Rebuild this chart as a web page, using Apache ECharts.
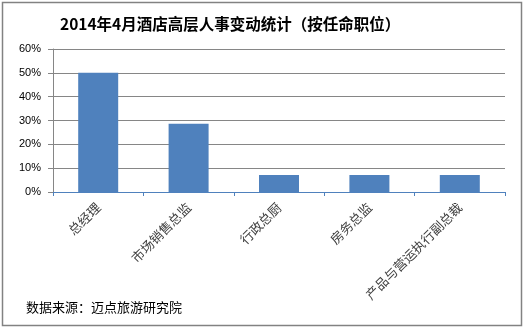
<!DOCTYPE html>
<html><head><meta charset="utf-8">
<script src="https://cdn.jsdelivr.net/npm/echarts@6/dist/echarts.min.js"></script>
<style>html,body{margin:0;padding:0;background:#fff}#c{width:525px;height:329px}</style>
</head><body><div id="c"></div>
<script>
var titleText = '2014年4月酒店高层人事变动统计（按任命职位）';
var sourceText = '数据来源：迈点旅游研究院';
var categories = ['总经理', '市场销售总监', '行政总厨', '房务总监', '产品与营运执行副总裁'];
var values = [50.0, 28.6, 7.1, 7.1, 7.1];
var yTicks = [0, 10, 20, 30, 40, 50, 60];

var chart = echarts.init(document.getElementById('c'), null, {renderer: 'canvas'});
chart.setOption({
  animation: false,
  backgroundColor: '#fff',
  title: {
    text: titleText, left: 55, top: 11,
    textStyle: {fontFamily: 'Noto Sans CJK SC', fontSize: 15.5, fontWeight: 'bold', color: '#000'}
  },
  graphic: [
    {type: 'rect', shape: {x: 2.5, y: 2.5, width: 519, height: 323}, style: {fill: null, stroke: '#828282', lineWidth: 1.5}, silent: true},
    {type: 'text', left: 26, top: 301, style: {text: sourceText, font: '13px "Noto Sans CJK SC"', fill: '#000'}}
  ],
  grid: {left: 53, right: 20, top: 49, bottom: 137, containLabel: false},
  xAxis: {
    type: 'category', data: categories,
    axisLine: {lineStyle: {color: '#4F81BD', width: 1}},
    axisTick: {show: true, length: 4, lineStyle: {color: '#4F81BD'}},
    axisLabel: {rotate: 45, interval: 0, margin: 13, fontFamily: 'Noto Sans CJK SC', fontSize: 13, color: '#404040'},
    splitLine: {show: false}
  },
  yAxis: {
    type: 'value', min: yTicks[0], max: yTicks[yTicks.length - 1], interval: 10,
    axisLine: {show: true, lineStyle: {color: '#868686'}},
    axisTick: {show: true, length: 5, lineStyle: {color: '#868686'}},
    axisLabel: {formatter: '{value}%', margin: 12, fontFamily: 'Liberation Sans', fontSize: 11, color: '#000'},
    splitLine: {lineStyle: {color: '#868686', width: 1}}
  },
  series: [{
    type: 'bar', data: values, barWidth: 40,
    itemStyle: {color: '#4F81BD'}
  }]
});
</script></body></html>
